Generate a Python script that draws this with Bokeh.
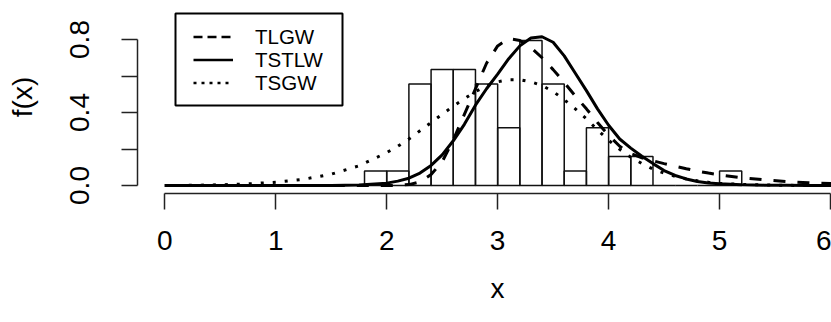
from bokeh.plotting import figure
from bokeh.models import Range1d, Legend, LegendItem, FixedTicker, BoxAnnotation, Title
from bokeh.embed import file_html
from bokeh.resources import INLINE

# ---- data ----
bin_edges = [1.8, 2.0, 2.2, 2.4, 2.6, 2.8, 3.0, 3.2, 3.4, 3.6, 3.8, 4.0, 4.2, 4.4, 4.6, 4.8, 5.0, 5.2]
density = [0.079, 0.079, 0.556, 0.635, 0.635, 0.556, 0.317, 0.794, 0.556, 0.079,
           0.317, 0.159, 0.159, 0.0, 0.0, 0.0, 0.079]

x_grid = [0.0, 0.25, 0.5, 0.75, 1.0, 1.25, 1.5, 1.75,
          2.0, 2.1, 2.2, 2.3, 2.4, 2.5, 2.6, 2.7, 2.8, 2.9,
          3.0, 3.1, 3.2, 3.3, 3.4, 3.5, 3.6, 3.7, 3.8, 3.9,
          4.0, 4.1, 4.2, 4.3, 4.4, 4.5, 4.6, 4.7, 4.8, 4.9,
          5.0, 5.2, 5.4, 5.6, 5.8, 6.0, 6.2]

tlgw = [0, 0, 0, 0, 0, 0, 0, 0,
        0.0, 0.001, 0.005, 0.02, 0.06, 0.13, 0.25, 0.39, 0.53, 0.67,
        0.765, 0.805, 0.795, 0.755, 0.70, 0.635, 0.565, 0.49, 0.42, 0.345,
        0.275, 0.215, 0.175, 0.152, 0.135, 0.12, 0.106, 0.092, 0.079, 0.068,
        0.058, 0.043, 0.031, 0.022, 0.015, 0.011, 0.008]

tstlw = [0, 0, 0, 0, 0, 0, 0, 0.003,
         0.013, 0.024, 0.04, 0.068, 0.11, 0.168, 0.245, 0.335, 0.44, 0.53,
         0.61, 0.695, 0.765, 0.808, 0.815, 0.785, 0.71, 0.615, 0.52, 0.42,
         0.33, 0.255, 0.205, 0.16, 0.12, 0.082, 0.055, 0.036, 0.022, 0.014,
         0.009, 0.004, 0.002, 0.001, 0, 0, 0]

tsgw = [0, 0.001, 0.004, 0.009, 0.018, 0.034, 0.062, 0.108,
        0.18, 0.215, 0.255, 0.30, 0.345, 0.39, 0.435, 0.475, 0.515, 0.545,
        0.568, 0.58, 0.58, 0.568, 0.548, 0.515, 0.47, 0.42, 0.365, 0.305,
        0.248, 0.198, 0.155, 0.12, 0.09, 0.068, 0.05, 0.036, 0.026, 0.018,
        0.012, 0.006, 0.003, 0.001, 0, 0, 0]

series_names = ["TLGW", "TSTLW", "TSGW"]
x_ticks = [0, 1, 2, 3, 4, 5, 6]
y_ticks = [0, 0.2, 0.4, 0.6, 0.8]
y_tick_labels = {0: "0.0", 0.2: "", 0.4: "0.4", 0.6: "", 0.8: "0.8"}

FONT = "Liberation Sans"

p = figure(width=831, height=322, output_backend="svg", toolbar_location=None,
           x_range=Range1d(-0.2461, 6.009), y_range=Range1d(-0.0438, 1.0137),
           min_border_left=137, min_border_right=0, min_border_top=0, min_border_bottom=129)
p.grid.visible = False
p.outline_line_color = None
p.background_fill_color = "white"
p.border_fill_color = "white"

# histogram
p.quad(left=bin_edges[:-1], right=bin_edges[1:], bottom=0, top=density,
       fill_color=None, line_color="#111111", line_width=1.5)

# density curves
r1 = p.line(x_grid, tlgw, line_color="black", line_width=3, line_dash="12 12")
r2 = p.line(x_grid, tstlw, line_color="black", line_width=3)
r3 = p.line(x_grid, tsgw, line_color="black", line_width=3, line_dash="3 9")

# legend frame (screen pixels relative to the plot frame's bottom-left)
legend_box = BoxAnnotation(left=38, right=205, bottom=88, top=180,
                           left_units="screen", right_units="screen",
                           bottom_units="screen", top_units="screen",
                           fill_color="white", fill_alpha=1.0,
                           line_color="black", line_width=2, line_alpha=1.0)
p.add_layout(legend_box)

# legend proxies (legend line pattern differs from the curves'); one point each -> nothing drawn
l1 = p.line(x=x_grid[:1], y=tlgw[:1], line_color="black", line_width=2.5, line_dash="9 5")
l2 = p.line(x=x_grid[:1], y=tstlw[:1], line_color="black", line_width=2.5)
l3 = p.line(x=x_grid[:1], y=tsgw[:1], line_color="black", line_width=2.5, line_dash="3 5")

legend_rows = [(series_names[0], l1, 144), (series_names[1], l2, 121), (series_names[2], l3, 98)]
for name, rend, vy in legend_rows:
    lg = Legend(items=[LegendItem(label=name, renderers=[rend])], location=(56, vy))
    lg.border_line_color = None
    lg.background_fill_alpha = 0
    lg.padding = 0
    lg.spacing = 0
    lg.margin = 0
    lg.glyph_width = 40
    lg.glyph_height = 25
    lg.label_height = 25
    lg.label_standoff = 22
    lg.label_text_font = FONT
    lg.label_text_font_size = "20.5px"
    lg.label_text_color = "black"
    p.add_layout(lg)

# x axis
xa = p.xaxis[0]
xa.ticker = FixedTicker(ticks=x_ticks)
xa.bounds = (0, 6)
xa.axis_line_width = 1.5
xa.axis_line_color = "#222222"
xa.major_tick_line_width = 1.5
xa.major_tick_line_color = "#222222"
xa.major_tick_out = 16
xa.major_tick_in = 0
xa.minor_tick_line_color = None
xa.major_label_text_font = FONT
xa.major_label_text_font_size = "28px"
xa.major_label_text_color = "black"
xa.major_label_standoff = 21

# x axis title, centred on the full R plot region (which runs past the window)
xt = Title(text="x", align="left", offset=353, standoff=36,
           text_font=FONT, text_font_size="28px", text_font_style="normal",
           text_color="black")
p.add_layout(xt, "below")

# y axis
ya = p.yaxis[0]
ya.ticker = FixedTicker(ticks=y_ticks)
ya.bounds = (0, 0.8)
ya.major_label_overrides = y_tick_labels
ya.major_label_orientation = "vertical"
ya.axis_line_width = 1.5
ya.axis_line_color = "#222222"
ya.major_tick_line_width = 1.5
ya.major_tick_line_color = "#222222"
ya.major_tick_out = 16
ya.major_tick_in = 0
ya.minor_tick_line_color = None
ya.major_label_text_font = FONT
ya.major_label_text_font_size = "28px"
ya.major_label_text_color = "black"
ya.major_label_standoff = 32
ya.axis_label = "f(x)"
ya.axis_label_text_font = FONT
ya.axis_label_text_font_size = "28px"
ya.axis_label_text_font_style = "normal"
ya.axis_label_text_color = "black"
ya.axis_label_standoff = 30

open("out.html", "w").write(file_html(p, INLINE))
